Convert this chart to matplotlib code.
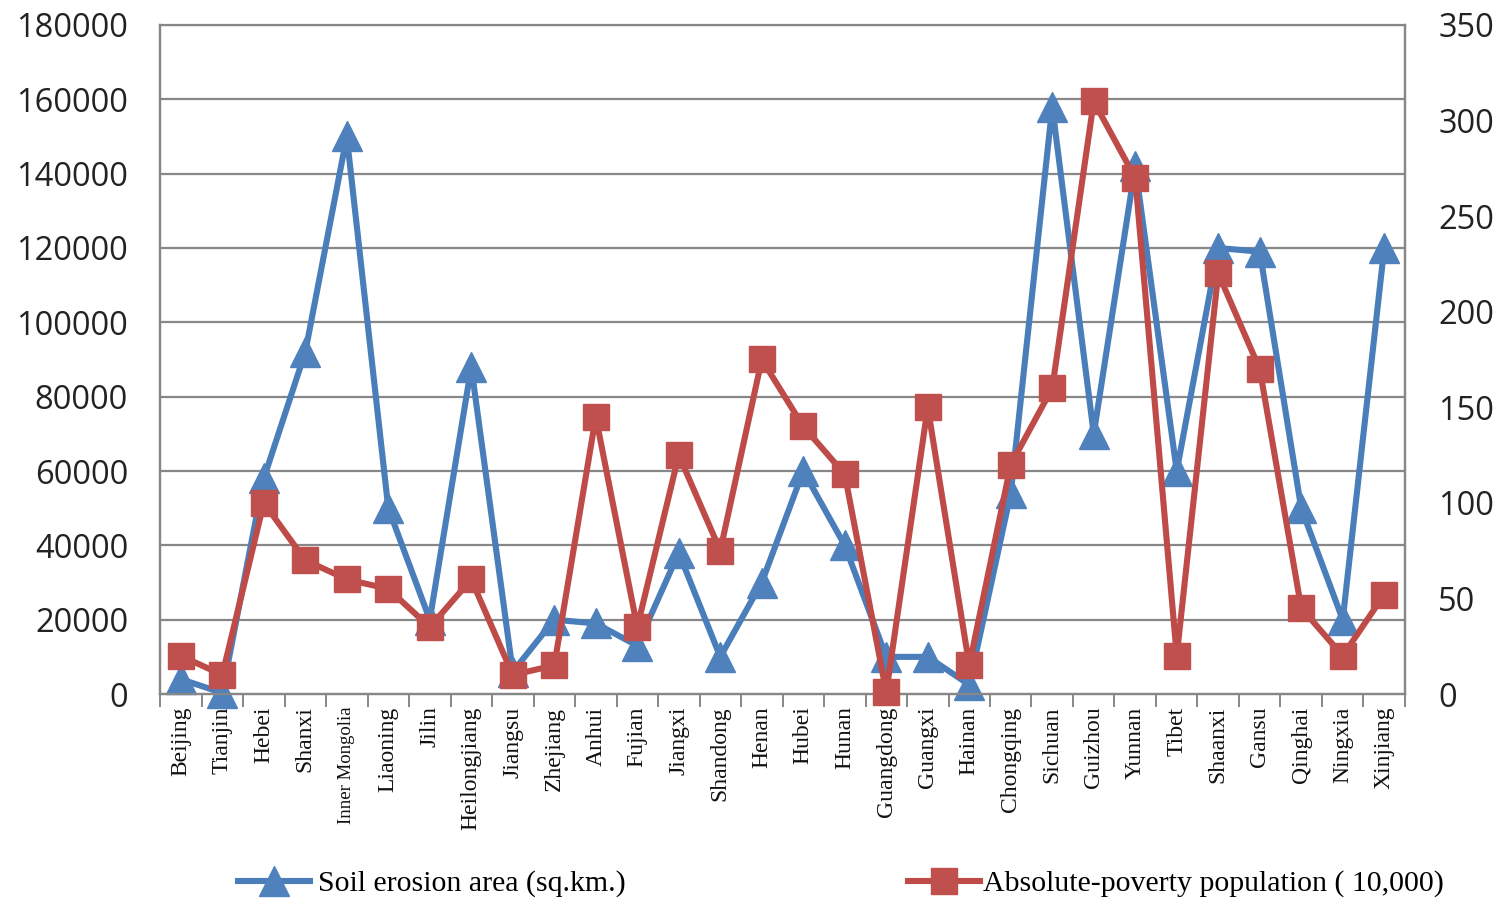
import matplotlib
matplotlib.use("Agg")
import matplotlib.pyplot as plt
from matplotlib.lines import Line2D
import numpy as np

provinces = ["Beijing", "Tianjin", "Hebei", "Shanxi", "InnerMongolia", "Liaoning", "Jilin",
             "Heilongjiang", "Jiangsu", "Zhejiang", "Anhui", "Fujian", "Jiangxi", "Shandong",
             "Henan", "Hubei", "Hunan", "Guangdong", "Guangxi", "Hainan", "Chongqing", "Sichuan",
             "Guizhou", "Yunnan", "Tibet", "Shaanxi", "Gansu", "Qinghai", "Ningxia", "Xinjiang"]
tick_labels = ["Beijing", "Tianjin", "Hebei", "Shanxi", "Inner Mongolia", "Liaoning", "Jilin",
               "Heilongjiang", "Jiangsu", "Zhejiang", "Anhui", "Fujian", "Jiangxi", "Shandong",
               "Henan", "Hubei", "Hunan", "Guangdong", "Guangxi", "Hainan", "Chongqing", "Sichuan",
               "Guizhou", "Yunnan", "Tibet", "Shaanxi", "Gansu", "Qinghai", "Ningxia", "Xinjiang"]

soil_erosion = [4000, 300, 58000, 92000, 150000, 50000, 20000, 88000, 6000, 20000,
                19000, 13000, 38000, 10000, 30000, 60000, 40000, 10000, 10000, 2500,
                54000, 158000, 70000, 142000, 60000, 120000, 119000, 50000, 20000, 120000]
poverty = [20, 10, 100, 70, 60, 55, 35, 60, 10, 15,
           145, 35, 125, 75, 175, 140, 115, 1, 150, 15,
           120, 160, 310, 270, 20, 220, 170, 45, 20, 52]

left_ticks = [0, 20000, 40000, 60000, 80000, 100000, 120000, 140000, 160000, 180000]
right_ticks = [0, 50, 100, 150, 200, 250, 300, 350]

blue_line = "#4A7EBB"
blue_mk = "#4F81BD"
red_line = "#BE4B48"
red_mk = "#C0504D"
grid_c = "#878787"

num_font = "Open Sans"
serif = "Liberation Serif"
LW = 4.4

fig = plt.figure(figsize=(15.07, 9.01), dpi=100)
ax = fig.add_axes([0.1062, 0.2297, 0.9323 - 0.1062, 0.9723 - 0.2297])
ax2 = ax.twinx()

n = len(provinces)
x = np.arange(n)

ax.set_xlim(-0.5, n - 0.5)
ax.set_ylim(0, 180000)
ax2.set_ylim(0, 350)

for y in left_ticks[1:]:
    ax.axhline(y, color=grid_c, lw=1.6, zorder=0)

l1, = ax.plot(x, soil_erosion, color=blue_line, lw=LW, marker="^", markersize=21,
              markerfacecolor=blue_mk, markeredgecolor=blue_mk, zorder=3, clip_on=False)
l2, = ax2.plot(x, poverty, color=red_line, lw=LW, marker="s", markersize=19,
               markerfacecolor=red_mk, markeredgecolor=red_mk, zorder=3, clip_on=False)

ax.set_yticks(left_ticks)
ax.set_yticklabels([str(v) for v in left_ticks], fontfamily=num_font, fontsize=23.5, color="#222222")
ax2.set_yticks(right_ticks)
ax2.set_yticklabels([str(v) for v in right_ticks], fontfamily=num_font, fontsize=23.5, color="#222222")
ax.tick_params(axis="y", length=0, pad=23)
ax2.tick_params(axis="y", length=0, pad=24)

ax.set_xticks(x)
xt = ax.set_xticklabels(tick_labels, rotation=90, fontfamily=serif, fontsize=17, color="#111111")
for t in xt:
    if t.get_text() == "Inner Mongolia":
        t.set_fontsize(13.5)
ax.tick_params(axis="x", which="major", length=0, pad=9)
ax.set_xticks(np.arange(n + 1) - 0.5, minor=True)
ax.tick_params(axis="x", which="minor", length=9, width=1.4, color=grid_c, direction="out")

for a in (ax, ax2):
    for s in a.spines.values():
        s.set_color(grid_c)
        s.set_linewidth(1.6)
    a.spines["top"].set_visible(False)
ax2.spines["top"].set_visible(True)

leg1 = fig.legend(handles=[Line2D([], [], color=blue_line, lw=LW, marker="^", markersize=21,
                                  markerfacecolor=blue_mk, markeredgecolor=blue_mk)],
                  labels=["Soil erosion area (sq.km.)"], loc="center left",
                  bbox_to_anchor=(0.140, 0.019), frameon=False, handlelength=2.4,
                  handletextpad=0.3, prop={"family": serif, "size": 21.5})
leg2 = fig.legend(handles=[Line2D([], [], color=red_line, lw=LW, marker="s", markersize=19,
                                  markerfacecolor=red_mk, markeredgecolor=red_mk)],
                  labels=["Absolute-poverty population ( 10,000)"], loc="center left",
                  bbox_to_anchor=(0.585, 0.019), frameon=False, handlelength=2.4,
                  handletextpad=0.1, prop={"family": serif, "size": 21.5})

fig.savefig("out.png", dpi=100, facecolor="white")
